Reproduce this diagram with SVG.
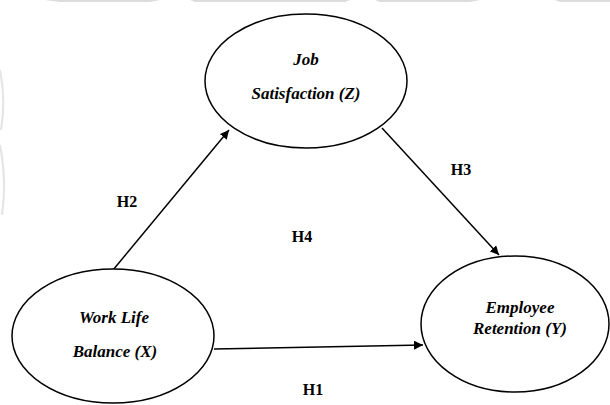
<svg xmlns="http://www.w3.org/2000/svg" width="610" height="405" viewBox="0 0 610 405">
  <defs>
    <style>
      .node { fill: #ffffff; stroke: #000000; stroke-width: 1.5; }
      .lbl { font-family: 'Liberation Serif', 'DejaVu Serif', serif; font-size: 17px; font-weight: 700; font-style: italic; fill: #000; text-anchor: middle; }
      .hyp { font-family: 'Liberation Serif', 'DejaVu Serif', serif; font-size: 16px; font-weight: 700; fill: #000; text-anchor: middle; }
      .edge { stroke: #000; stroke-width: 1.5; fill: none; marker-end: url(#arrow); }
      .wm { fill: #dcdcdc; }
      .wml { fill: none; stroke: #e4e4e4; stroke-width: 2; }
    </style>
    <marker id="arrow" viewBox="0 0 10 10" refX="10" refY="5" markerWidth="6" markerHeight="6" markerUnits="strokeWidth" orient="auto">
      <path d="M0,0 L10,5 L0,10 Z" fill="#000"/>
    </marker>
  </defs>
  <rect width="610" height="405" fill="#ffffff"/>
  <g id="watermark">
    <path class="wm" d="M45,0 L160,0 L150,2 L60,2 Z"/>
    <path class="wm" d="M190,0 L350,0 L345,2 L195,2 Z"/>
    <path class="wm" d="M375,0 L480,0 L470,2 L380,2 Z"/>
    <path class="wm" d="M555,0 L610,0 L610,2 L560,2 Z"/>
    <path class="wml" d="M0,70 Q6,100 1,130"/>
    <path class="wml" d="M0,145 Q7,180 2,215"/>
  </g>
  <g id="connectors">
    <line id="e-h2" class="edge" x1="113" y1="270" x2="229" y2="130"/>
    <line id="e-h3" class="edge" x1="382" y1="128" x2="499" y2="255"/>
    <line id="e-h1" class="edge" x1="214" y1="349" x2="423" y2="345"/>
  </g>
  <g id="node-z">
    <ellipse class="node" cx="306" cy="81" rx="101" ry="67"/>
    <text class="lbl" x="306" y="65" font-family="Liberation Serif, serif">Job</text>
    <text class="lbl" x="306" y="99" font-family="Liberation Serif, serif">Satisfaction (Z)</text>
  </g>
  <g id="node-x">
    <ellipse class="node" cx="113" cy="336" rx="101" ry="67"/>
    <text class="lbl" x="114" y="323">Work Life</text>
    <text class="lbl" x="115" y="357">Balance (X)</text>
  </g>
  <g id="node-y">
    <ellipse class="node" cx="515" cy="324" rx="94" ry="68"/>
    <text class="lbl" x="520" y="313">Employee</text>
    <text class="lbl" x="520" y="334">Retention (Y)</text>
  </g>
  <g id="labels">
    <text class="hyp" x="127" y="207">H2</text>
    <text class="hyp" x="461" y="175">H3</text>
    <text class="hyp" x="302" y="242">H4</text>
    <text class="hyp" x="313" y="395">H1</text>
  </g>
</svg>
